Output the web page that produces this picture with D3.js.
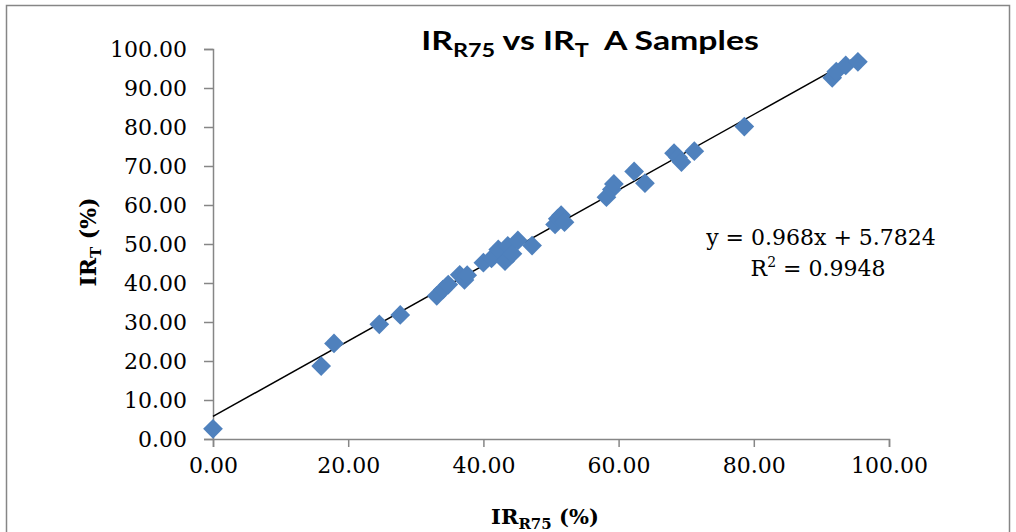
<!DOCTYPE html>
<html>
<head>
<meta charset="utf-8">
<script src="https://cdn.jsdelivr.net/npm/d3@7"></script>
<style>
  html, body { margin: 0; padding: 0; background: #fff; }
  svg { display: block; }
</style>
</head>
<body>
<svg id="chart"></svg>
<script>
// Sample values (IR_R75 %, IR_T %)
const irR75 = [0.0, 16.0, 17.9, 24.6, 27.7, 33.1, 34.0, 34.8, 36.5, 37.2, 37.6,
  40.0, 41.2, 42.2, 43.2, 43.6, 44.3, 45.1, 47.2, 50.6, 51.0, 51.5, 52.0,
  58.2, 59.0, 59.3, 62.3, 63.9, 68.2, 68.8, 69.3, 71.2, 78.6,
  91.6, 92.2, 93.6, 95.4];
const irT = [2.6, 18.7, 24.5, 29.4, 31.8, 36.7, 38.3, 39.6, 42.1, 40.8, 42.0,
  45.2, 46.3, 48.6, 45.6, 49.5, 47.5, 50.9, 49.6, 55.0, 56.5, 57.4, 55.6,
  62.0, 64.0, 65.4, 68.6, 65.6, 73.3, 72.2, 71.0, 73.8, 80.1,
  92.6, 94.2, 95.8, 96.7];

const xTickValues = [0, 20, 40, 60, 80, 100];
const yTickValues = [0, 10, 20, 30, 40, 50, 60, 70, 80, 90, 100];

// Linear trendline as printed on the chart
const slope = 0.968;
const intercept = 5.7824;
const rSquared = 0.9948;

const W = 1016, H = 532;
const AXIS_COLOR = '#868686';
const MARKER_COLOR = '#4F81BD';
const SERIF = '"DejaVu Serif", serif';
const SANS = 'Lato, "Open Sans", sans-serif';

const svg = d3.select('#chart')
  .attr('width', W)
  .attr('height', H)
  .attr('viewBox', `0 0 ${W} ${H}`);

// Outer chart border (bottom runs off the picture)
svg.append('rect')
  .attr('x', 6.5).attr('y', 5.5)
  .attr('width', 1003).attr('height', 540)
  .attr('fill', '#fff')
  .attr('stroke', AXIS_COLOR)
  .attr('stroke-width', 1.5);

const x = d3.scaleLinear().domain([0, 100]).range([213, 889]);
const y = d3.scaleLinear().domain([0, 100]).range([439, 49]);
const fmt = d3.format('.2f');

// --- Axes ---
const xAxis = svg.append('g')
  .attr('transform', `translate(0,${y(0)})`)
  .call(d3.axisBottom(x).tickValues(xTickValues).tickSize(8).tickPadding(10).tickFormat(fmt));

const yAxis = svg.append('g')
  .attr('transform', `translate(${x(0)},0)`)
  .call(d3.axisLeft(y).tickValues(yTickValues).tickSize(9).tickPadding(17).tickFormat(fmt));

[xAxis, yAxis].forEach(a => {
  a.select('.domain').attr('stroke', AXIS_COLOR).attr('stroke-width', 1.5);
  a.selectAll('.tick line').attr('stroke', AXIS_COLOR).attr('stroke-width', 1.5);
  a.selectAll('.tick text')
    .attr('fill', '#000')
    .attr('font-family', SERIF)
    .attr('font-size', '22px');
});

// --- Trendline ---
const xMax = d3.max(irR75);
svg.append('line')
  .attr('x1', x(0)).attr('y1', y(intercept))
  .attr('x2', x(xMax)).attr('y2', y(slope * xMax + intercept))
  .attr('stroke', '#000')
  .attr('stroke-width', 1.5);

// --- Markers (diamonds) ---
const diamond = d3.symbol(d3.symbolSquare, 195);
svg.append('g')
  .selectAll('path')
  .data(irR75.map((v, i) => [v, irT[i]]))
  .join('path')
  .attr('d', diamond)
  .attr('transform', d => `translate(${x(d[0])},${y(d[1])}) rotate(45)`)
  .attr('fill', MARKER_COLOR);

// --- Equation label ---
const eq = svg.append('text')
  .attr('font-family', SERIF)
  .attr('font-size', '22px')
  .attr('fill', '#000')
  .attr('text-anchor', 'middle');
eq.append('tspan')
  .attr('x', 821).attr('y', 245)
  .text(`y = ${slope}x + ${intercept}`);
const r2 = eq.append('tspan')
  .attr('x', 818).attr('y', 276);
r2.append('tspan').text('R');
r2.append('tspan').attr('font-size', '14px').attr('dy', -9).text('2');
r2.append('tspan').attr('dy', 9).text(` = ${rSquared}`);

// --- Title (the source is stretched wide, so scale it horizontally) ---
const title = svg.append('text')
  .attr('transform', 'translate(590,50) scale(1.3,1)')
  .attr('text-anchor', 'middle')
  .attr('font-family', SANS)
  .attr('font-weight', 'bold')
  .attr('font-size', '26px')
  .attr('fill', '#000');
title.append('tspan').text('IR');
title.append('tspan').attr('font-size', '18px').attr('dy', 7).text('R75');
title.append('tspan').attr('dy', -7).text(' vs IR');
title.append('tspan').attr('font-size', '18px').attr('dy', 7).text('T');
title.append('tspan').attr('dy', -7).text('\u00a0 A Samples');

// --- Axis titles ---
const xTitle = svg.append('text')
  .attr('x', 545).attr('y', 524)
  .attr('text-anchor', 'middle')
  .attr('font-family', SERIF)
  .attr('font-weight', 'bold')
  .attr('font-size', '21px')
  .attr('fill', '#000');
xTitle.append('tspan').text('IR');
xTitle.append('tspan').attr('font-size', '15px').attr('dy', 5).text('R75');
xTitle.append('tspan').attr('dy', -5).text(' (%)');

const yTitle = svg.append('text')
  .attr('transform', `translate(96,242) rotate(-90)`)
  .attr('text-anchor', 'middle')
  .attr('font-family', SERIF)
  .attr('font-weight', 'bold')
  .attr('font-size', '22px')
  .attr('fill', '#000');
yTitle.append('tspan').text('IR');
yTitle.append('tspan').attr('font-size', '15px').attr('dy', 5).text('T');
yTitle.append('tspan').attr('dy', -5).text(' (%)');
</script>
</body>
</html>
